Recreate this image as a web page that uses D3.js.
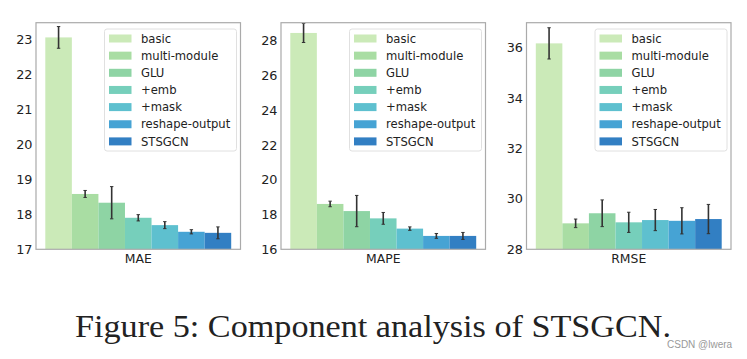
<!DOCTYPE html>
<html><head><meta charset="utf-8">
<script src="https://cdn.jsdelivr.net/npm/d3@7/dist/d3.min.js"></script>
<style>body{margin:0;background:#fff;}svg{display:block;}</style>
</head><body>
<svg id="c" width="747" height="359"></svg>
<script>
const variants = ["basic","multi-module","GLU","+emb","+mask","reshape-output","STSGCN"];
const colors = ["#cbeab8","#a9dda3","#8ed4a4","#76cfbb","#5ec0cf","#46a3d4","#327fc3"];
const metrics = ["MAE","MAPE","RMSE"];
const maeValues  = [23.05,18.58,18.33,17.90,17.69,17.50,17.47];
const maeErrors  = [0.31,0.10,0.46,0.09,0.10,0.06,0.17];
const mapeValues = [28.45,18.61,18.20,17.78,17.19,16.77,16.77];
const mapeErrors = [0.55,0.16,0.90,0.34,0.10,0.14,0.20];
const rmseValues = [36.17,29.03,29.43,29.07,29.16,29.13,29.20];
const rmseErrors = [0.62,0.17,0.53,0.40,0.42,0.52,0.58];
const maeTicks  = [17,18,19,20,21,22,23];
const mapeTicks = [16,18,20,22,24,26,28];
const rmseTicks = [28,30,32,34,36];
const caption = "Figure 5: Component analysis of STSGCN.";
const watermark = "CSDN @lwera";

const panels = [
  {name:metrics[0], vals:maeValues, errs:maeErrors, ticks:maeTicks, dom:[17,23.47], left:36},
  {name:metrics[1], vals:mapeValues, errs:mapeErrors, ticks:mapeTicks, dom:[16,29.04], left:281},
  {name:metrics[2], vals:rmseValues, errs:rmseErrors, ticks:rmseTicks, dom:[28,36.99], left:526.5}
];
const svg = d3.select("#c");
const W = 204.5, yTop = 22.7, yBottom = 249.3;
const font = "'DejaVu Sans', sans-serif";

panels.forEach((p,pi)=>{
  const g = svg.append("g");
  const x = d3.scaleBand().domain(variants).range([p.left, p.left+W]).paddingInner(0).paddingOuter(0.35);
  const y = d3.scaleLinear().domain(p.dom).range([yBottom, yTop]);
  const clipId = "clip"+pi;
  svg.append("clipPath").attr("id",clipId).append("rect")
    .attr("x",p.left).attr("y",yTop).attr("width",W).attr("height",yBottom-yTop);
  const inner = g.append("g").attr("clip-path",`url(#${clipId})`);
  inner.selectAll("rect.bar").data(variants).join("rect").attr("class","bar")
    .attr("x",d=>x(d)).attr("width",x.bandwidth())
    .attr("y",(d,i)=>y(p.vals[i])).attr("height",(d,i)=>yBottom-y(p.vals[i]))
    .attr("fill",(d,i)=>colors[i]);
  const eb = inner.selectAll("g.eb").data(variants).join("g").attr("class","eb");
  eb.append("line")
    .attr("x1",d=>x(d)+x.bandwidth()/2).attr("x2",d=>x(d)+x.bandwidth()/2)
    .attr("y1",(d,i)=>y(p.vals[i]-p.errs[i])).attr("y2",(d,i)=>y(p.vals[i]+p.errs[i]))
    .attr("stroke","#333").attr("stroke-width",1.6);
  [-1,1].forEach(s=>{
    eb.append("line")
      .attr("x1",d=>x(d)+x.bandwidth()/2-1.7).attr("x2",d=>x(d)+x.bandwidth()/2+1.7)
      .attr("y1",(d,i)=>y(p.vals[i]+s*p.errs[i])).attr("y2",(d,i)=>y(p.vals[i]+s*p.errs[i]))
      .attr("stroke","#333").attr("stroke-width",1);
  });
  const ax = d3.axisLeft(y).tickValues(p.ticks).tickSize(0).tickPadding(3.5).tickFormat(d3.format("d"));
  const axg = g.append("g").attr("transform",`translate(${p.left},0)`).call(ax);
  axg.select(".domain").remove();
  axg.selectAll("text").attr("font-family",font).attr("font-size",12.8).attr("fill","#222");
  g.append("rect").attr("x",p.left).attr("y",yTop).attr("width",W).attr("height",yBottom-yTop)
    .attr("fill","none").attr("stroke","#aaa").attr("stroke-width",1.2);
  g.append("text").attr("x",p.left+W/2).attr("y",263).attr("text-anchor","middle")
    .attr("font-family",font).attr("font-size",12.4).attr("fill","#222").text(p.name);
  const lx = p.left+68.5, ly = yTop+6.3, lw = 132, lh = 122;
  g.append("rect").attr("x",lx).attr("y",ly).attr("width",lw).attr("height",lh)
    .attr("rx",2.5).attr("fill","#fff").attr("fill-opacity",0.85).attr("stroke","#ddd").attr("stroke-width",0.9);
  const items = g.selectAll("g.li").data(variants).join("g").attr("class","li")
    .attr("transform",(d,i)=>`translate(${lx},${ly+9.5+i*17.15})`);
  items.append("rect").attr("x",4.5).attr("y",-4).attr("width",22.5).attr("height",8)
    .attr("fill",(d,i)=>colors[i]);
  items.append("text").attr("x",36.5).attr("y",0).attr("dy","0.36em")
    .attr("font-family",font).attr("font-size",11.6).attr("fill","#222").text(d=>d);
});

svg.append("text").attr("x",75).attr("y",336.5).attr("font-family","'Liberation Serif', 'Times New Roman', serif")
  .attr("font-size",31).attr("fill","#222")
  .attr("textLength",596).attr("lengthAdjust","spacingAndGlyphs").text(caption);
svg.append("text").attr("x",667).attr("y",348).attr("font-family","'Liberation Sans', Arial, sans-serif")
  .attr("font-size",10).attr("fill","#999").text(watermark);
</script>
</body></html>
